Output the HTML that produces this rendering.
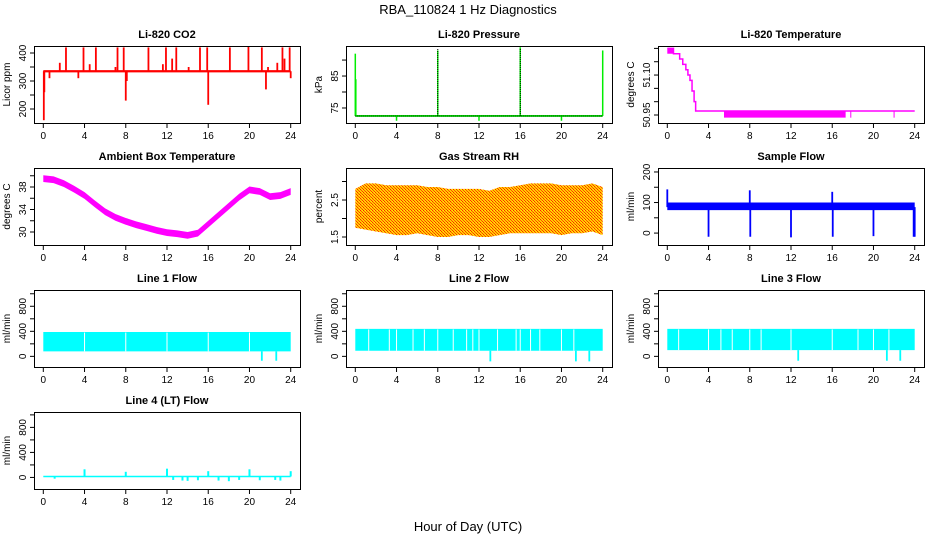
<!DOCTYPE html>
<html><head><meta charset="utf-8"><style>
html,body{margin:0;padding:0;background:#fff}
svg{display:block;font-family:"Liberation Sans",Arial,sans-serif}
</style></head><body>
<svg id="chart" width="936" height="540" viewBox="0 0 936 540" xmlns="http://www.w3.org/2000/svg">
<defs>
<pattern id="rhpat" width="3" height="3" patternUnits="userSpaceOnUse">
<rect width="3" height="3" fill="#ffcc00"/><rect width="1" height="1" fill="#ff2000"/><rect x="1" y="1" width="1" height="1" fill="#ff5000"/><rect x="2" y="2" width="1" height="1" fill="#ff3000"/><rect x="2" y="0" width="1" height="1" fill="#ffee00"/>
</pattern>
</defs>
<text x="468" y="14" text-anchor="middle" font-size="13">RBA_110824  1 Hz Diagnostics</text>
<text x="468" y="531" text-anchor="middle" font-size="13">Hour of Day (UTC)</text>
</svg>
<script>
// ---- data ----
const hourTicks = [0,4,8,12,16,20,24];
const bandHours = [0,1,2,3,4,5,6,7,8,9,10,11,12,13,14,15,16,17,18,19,20,21,22,23,24];
// CO2
const co2Base = 335;
const co2SpikeHours = [0.05,0.1,0.6,1.6,2.2,3.4,3.9,4.5,5.1,7.0,7.2,7.8,8.0,8.1,10.2,11.6,11.9,12.5,12.9,14.1,15.2,15.9,16.0,18.1,19.9,21.2,21.6,21.8,22.7,23.2,23.4,23.9,24.0];
const co2SpikeVals  = [160,260,310,365,420,310,420,360,420,350,420,420,230,300,420,360,420,380,420,350,420,420,215,420,425,420,270,350,365,420,380,420,310];
// Pressure
const presBase = 72.5;
const presSpikeHours = [0.0,0.05,4,8,12,16,20,24];
const presSpikeVals  = [92,84,71,93,71,94,71,93];
// Li-820 temperature (step series)
const tempHours = [0,0.6,1.2,1.5,1.8,2.0,2.2,2.4,2.6,2.75,24];
const tempVals  = [51.2,51.18,51.16,51.14,51.12,51.10,51.08,51.04,51.00,50.965,50.965];
const tempDipStart = 5.5, tempDipEnd = 17.3, tempDipVal = 50.94;
const tempDipExtra = [17.8,22.0];
// Ambient box temperature
const ambVals = [39.5,39.3,38.6,37.6,36.5,35.0,33.6,32.6,31.9,31.3,30.8,30.3,29.9,29.7,29.4,29.8,31.4,33.0,34.6,36.2,37.5,37.2,36.3,36.5,37.2];
// Gas stream RH
const rhHi = [2.8,2.95,2.95,2.9,2.9,2.9,2.9,2.85,2.85,2.8,2.8,2.8,2.8,2.75,2.85,2.85,2.9,2.95,2.95,2.95,2.9,2.9,2.9,2.95,2.85];
const rhLo = [1.75,1.7,1.65,1.6,1.55,1.55,1.6,1.55,1.5,1.5,1.55,1.55,1.5,1.5,1.55,1.6,1.6,1.6,1.6,1.6,1.55,1.6,1.6,1.65,1.55];
// Sample flow
const sfLo = 75, sfHi = 100;
const sfSpikeHours = [0,8,16,4,8.05,12,16.05,20,23.9,24];
const sfSpikeVals  = [143,140,135,-12,-12,-14,-12,-10,-12,-12];
// Line flows
const l1Lo = 80, l1Hi = 390;
const l1Gaps = [4,8,12,16,20];
const l1SpikeHours = [21.2,22.6]; const l1SpikeVals = [-70,-70];
const l2Lo = 90, l2Hi = 440;
const l2Gaps = [1.3,3.3,4,5.6,6.7,8,9.5,10.8,11.4,12,13.8,15.6,16,17,17.9,20,21.2];
const l2SpikeHours = [13.1,21.4,22.7]; const l2SpikeVals = [-80,-80,-80];
const l3Lo = 100, l3Hi = 440;
const l3Gaps = [1.1,4,5.2,6.3,8,9.1,12,16,18.5,20,21.5];
const l3SpikeHours = [12.7,21.3,22.6]; const l3SpikeVals = [-70,-70,-70];
// Line 4
const l4Base = 15;
const l4SpikeHours = [4,8,12,16,20,24,1.1,12.6,13.5,14,15,17,18,19,21,22.5,23];
const l4SpikeVals  = [130,90,140,100,130,100,-20,-40,-50,-55,-45,-50,-60,-40,-45,-40,-50];

// ---- drawing ----
const svg = document.getElementById('chart');
const NS = 'http://www.w3.org/2000/svg';
function mk(tag, attrs, parent){const e=document.createElementNS(NS,tag);for(const k in attrs)e.setAttribute(k,attrs[k]);(parent||svg).appendChild(e);return e;}

function panel(col,row,title,ylab,dom,ticks,labels,name){
  const x0=34+312*col, y0=46+122*row, w=266, h=77;
  const g=mk('g',{});
  
  
  const xs=hr=>x0+9.3+hr*(247.4/24);
  const ys=v=>y0+h-(v-dom[0])/(dom[1]-dom[0])*h;
  const t=mk('text',{x:x0+w/2,y:y0-8,'text-anchor':'middle','font-size':'11','font-weight':'bold'},g);
  t.textContent=title;
  
  
  const yl=mk('text',{transform:`translate(${x0-24},${y0+h/2}) rotate(-90)`,'text-anchor':'middle','font-size':'10'},g);
  yl.textContent=ylab;
  
  
  const data=mk('g',{},g);
  
  
  const axes=mk('g',{stroke:'#000','stroke-width':'1',fill:'none'},g);
  mk('rect',{x:x0+0.5,y:y0+0.5,width:w,height:h},axes);
  hourTicks.forEach(hv=>{
    const x=xs(hv);
    mk('line',{x1:x,y1:y0+h+0.5,x2:x,y2:y0+h+5},axes);
    const tl=mk('text',{x:x,y:y0+h+16,'text-anchor':'middle','font-size':'10',fill:'#000',stroke:'none'},g);
    tl.textContent=hv;
    
    
  });
  ticks.forEach(v=>{
    const y=ys(v);
    mk('line',{x1:x0+0.5,y1:y,x2:x0-4,y2:y},axes);
  });
  labels.forEach(v=>{
    const y=ys(v);
    const tl=mk('text',{transform:`translate(${x0-8},${y}) rotate(-90)`,'text-anchor':'middle','font-size':'10'},g);
    tl.textContent=v;
    
    
  });
  return {xs,ys,data,x0,y0,w,h};
}
function vline(p,hv,v1,v2,color,sw){mk('line',{x1:p.xs(hv),x2:p.xs(hv),y1:p.ys(v1),y2:p.ys(v2),stroke:color,'stroke-width':sw||1.5},p.data);}
function band(p,lo,hi,fill,hours){
  let pts=hours.map((hv,i)=>p.xs(hv)+','+p.ys(hi[i]));
  for(let i=hours.length-1;i>=0;i--)pts.push(p.xs(hours[i])+','+p.ys(lo[i]));
  mk('polygon',{points:pts.join(' '),fill:fill},p.data);
}
function flatBand(p,lo,hi,fill){band(p,[lo,lo],[hi,hi],fill,[0,24]);}

// CO2
let p=panel(0,0,'Li-820 CO2','Licor ppm',[150,425],[200,250,300,350,400],['200','300','400'],'co2');
flatBand(p,co2Base-4,co2Base+4,'red');
co2SpikeHours.forEach((hv,i)=>vline(p,hv,co2Base,co2SpikeVals[i],'red',1.8));

// Pressure
p=panel(1,0,'Li-820 Pressure','kPa',[70.3,94.4],[75,80,85,90],['75','85'],'pressure');
flatBand(p,presBase-0.3,presBase+0.3,'#00ee00');
presSpikeHours.forEach((hv,i)=>vline(p,hv,presBase,presSpikeVals[i],'#00ee00',1.5));
mk('line',{x1:p.xs(0),x2:p.xs(24),y1:p.ys(presBase),y2:p.ys(presBase),stroke:'#000','stroke-dasharray':'1,1'},p.data);
[8,16].forEach(hv=>mk('line',{x1:p.xs(hv),x2:p.xs(hv),y1:p.ys(presBase),y2:p.ys(93.5),stroke:'#000','stroke-dasharray':'1,1'},p.data));

// Li-820 temperature
p=panel(2,0,'Li-820 Temperature','degrees C',[50.92,51.209],[50.95,51.0,51.05,51.1,51.15,51.2],['50.95','51.10'],'li820-temp');
{let pts=[];tempHours.forEach((hv,i)=>{if(i>0)pts.push(p.xs(hv)+','+p.ys(tempVals[i-1]));pts.push(p.xs(hv)+','+p.ys(tempVals[i]));});
mk('polyline',{points:pts.join(' '),fill:'none',stroke:'#ff00ff','stroke-width':'1.5'},p.data);}
mk('rect',{x:p.xs(0),y:p.ys(51.2),width:p.xs(0.6)-p.xs(0),height:p.ys(51.18)-p.ys(51.2),fill:'#ff00ff'},p.data);
band(p,[tempDipVal,tempDipVal],[tempVals[9],tempVals[9]],'#ff00ff',[tempDipStart,tempDipEnd]);
tempDipExtra.forEach(hv=>vline(p,hv,tempVals[9],tempDipVal,'#ff00ff',1));

// Ambient
p=panel(0,1,'Ambient Box Temperature','degrees C',[27.69,41.38],[30,32,34,36,38,40],['30','34','38'],'ambient-temp');
band(p,ambVals.map(v=>v-0.6),ambVals.map(v=>v+0.6),'#ff00ff',bandHours);

// RH
p=panel(1,1,'Gas Stream RH','percent',[1.284,3.365],[1.5,2.0,2.5,3.0],['1.5','2.5'],'gas-rh');
band(p,rhLo,rhHi,'url(#rhpat)',bandHours);

// Sample flow
p=panel(2,1,'Sample Flow','ml/min',[-39,213],[0,50,100,150,200],['0','100','200'],'sample-flow');
flatBand(p,sfLo,sfHi,'#0000ff');
sfSpikeHours.forEach((hv,i)=>vline(p,hv,85,sfSpikeVals[i],'#0000ff',1.8));

// Line flows
const flowTicks=[0,200,400,600,800,1000], flowLabels=['0','400','800'], flowDom=[-170,1060];
function lineFlow(col,row,title,name,lo,hi,gaps,sh,sv){
  const p=panel(col,row,title,'ml/min',flowDom,flowTicks,flowLabels,name);
  flatBand(p,lo,hi,'#00ffff');
  gaps.forEach(hv=>vline(p,hv,lo,hi-10,'#ffffff',1));
  sh.forEach((hv,i)=>vline(p,hv,lo,sv[i],'#00ffff',1.8));
  return p;
}
lineFlow(0,2,'Line 1 Flow','line1-flow',l1Lo,l1Hi,l1Gaps,l1SpikeHours,l1SpikeVals);
lineFlow(1,2,'Line 2 Flow','line2-flow',l2Lo,l2Hi,l2Gaps,l2SpikeHours,l2SpikeVals);
lineFlow(2,2,'Line 3 Flow','line3-flow',l3Lo,l3Hi,l3Gaps,l3SpikeHours,l3SpikeVals);

p=panel(0,3,'Line 4 (LT) Flow','ml/min',[-185,1046],flowTicks,flowLabels,'line4-flow');
flatBand(p,l4Base-12,l4Base+12,'#00ffff');
l4SpikeHours.forEach((hv,i)=>vline(p,hv,l4Base,l4SpikeVals[i],'#00ffff',2));
</script>
</body></html>
